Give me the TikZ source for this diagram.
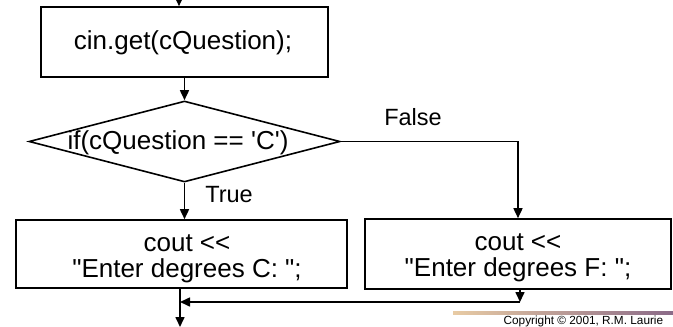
\documentclass[tikz,border=0pt]{standalone}
\usepackage{fontspec}
\setmainfont{Liberation Sans}[Ligatures=TeXOff]
\usetikzlibrary{shapes.geometric,arrows.meta,calc}
\definecolor{tanc}{HTML}{E8CBA4}
\definecolor{mauve}{HTML}{8A6A88}
\begin{document}
\begin{tikzpicture}[x=1pt,y=-1pt,
  line width=1.6pt,
  arr/.style={-{Triangle[length=10pt,width=9pt]}},
  boxst/.style={draw,rectangle,inner sep=0pt},
  txt/.style={font=\fontsize{26}{26}\selectfont,align=center,inner sep=0pt},
  lbl/.style={font=\fontsize{23.5}{24}\selectfont,inner sep=0pt}]
\useasboundingbox (0,0) rectangle (673,327);
% boxes
\node[boxst,minimum width=287pt,minimum height=70pt] (b1) at (184.5,42) {};
\node[txt] (t1) at (183,43) {cin.get(cQuestion);};
\node[draw,diamond,inner sep=0pt,minimum width=311pt,minimum height=81pt] (d) at (184.5,141.5) {};
\node[txt] (td) at (178,143) {if(cQuestion == 'C')};
\node[boxst,minimum width=331pt,minimum height=68pt] (lb) at (181.5,254) {};
\node[txt] (tl) at (187,258.5) {cout <<\\ "Enter degrees C: ";};
\node[boxst,minimum width=306pt,minimum height=70pt] (rb) at (518,254) {};
\node[txt] (tr) at (518,258) {cout <<\\ "Enter degrees F: ";};
% labels
\node[lbl] (lf) at (413,117) {False};
\node[lbl] (lt) at (229,195) {True};
% coordinates
\coordinate (top) at (179,0);
\coordinate (fc) at (518,141.5);
\coordinate (m1) at (520,302);
\coordinate (m2) at (180,302);
\coordinate (bot) at (180,327);
% connectors
\draw[arr] (top) -- (top |- b1.north);
\draw[arr] (b1.south -| d.north) -- (d.north);
\draw[arr] (d.south) -- (d.south |- lb.north);
\draw[arr] (d.east) -- (fc) -- (fc |- rb.north);
\draw[arr] (m1 |- rb.south) -- (m1);
\draw[arr] (m1) -- (m2);
\draw[arr] (m2 |- lb.south) -- (bot);
% decoration
\shade[left color=tanc,right color=mauve,draw=none] (453,311.5) rectangle (673,314.5);
\node[font=\fontsize{11.8}{12}\selectfont,anchor=base east,inner sep=0pt] (cp) at (664,324.3) {Copyright © 2001, R.M. Laurie};
\end{tikzpicture}
\end{document}
